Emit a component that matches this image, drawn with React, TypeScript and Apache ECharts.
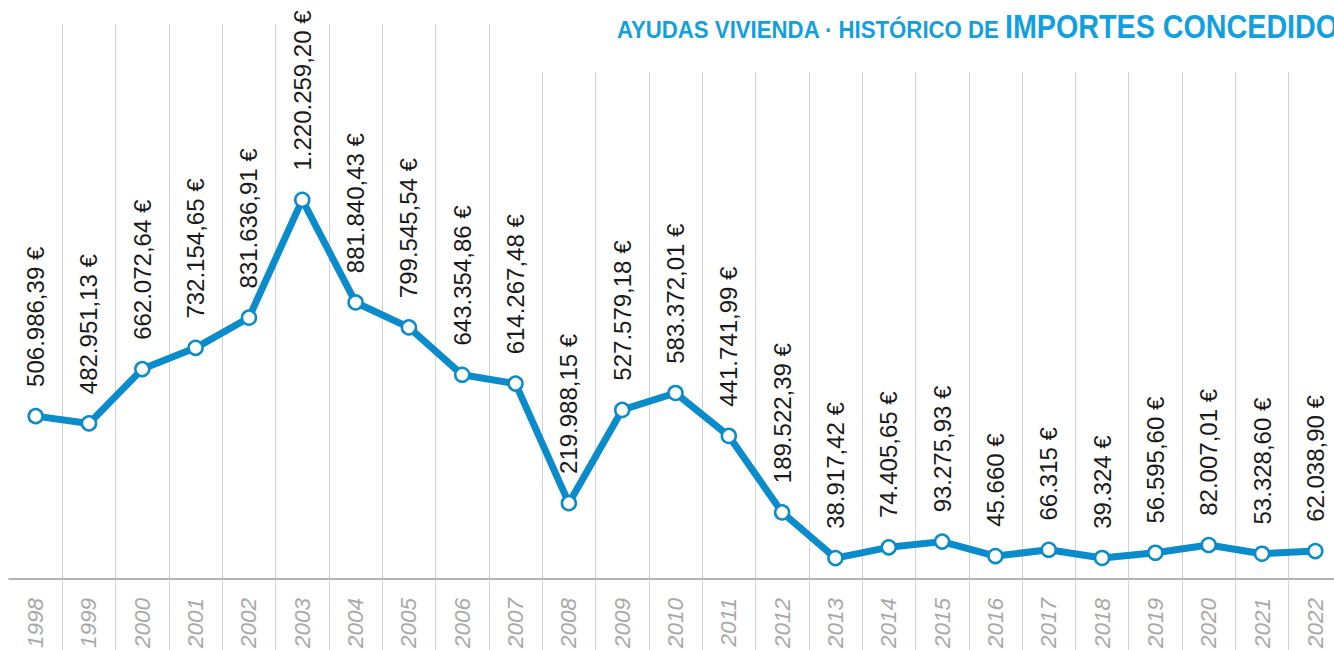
import React, { useEffect, useRef } from "react";
import * as echarts from "echarts";

const years: string[] = [
  "1998", "1999", "2000", "2001", "2002", "2003", "2004", "2005", "2006", "2007",
  "2008", "2009", "2010", "2011", "2012", "2013", "2014", "2015", "2016", "2017",
  "2018", "2019", "2020", "2021", "2022",
];

const amounts: number[] = [
  506986.39, 482951.13, 662072.64, 732154.65, 831636.91, 1220259.2, 881840.43, 799545.54,
  643354.86, 614267.48, 219988.15, 527579.18, 583372.01, 441741.99, 189522.39, 38917.42,
  74405.65, 93275.93, 45660, 66315, 39324, 56595.6, 82007.01, 53328.6, 62038.9,
];

const titleSmall = "AYUDAS VIVIENDA · HISTÓRICO DE";
const titleBig = "IMPORTES CONCEDIDOS";

const BLUE = "#0a8bcb";
const TITLE_BLUE = "#129fe0";
const GRID_GREY = "#d2d2d2";
const FONT = "'Liberation Sans', Arial, Helvetica, sans-serif";

function fmtEuro(v: number): string {
  const fixed = Number.isInteger(v) ? v.toFixed(0) : v.toFixed(2);
  const [i, d] = fixed.split(".");
  const ip = i.replace(/\B(?=(\d{3})+(?!\d))/g, ".");
  return ip + (d ? "," + d : "") + " €";
}

export default function App() {
  const ref = useRef<HTMLDivElement>(null);

  useEffect(() => {
    if (!ref.current) return;
    const chart = echarts.init(ref.current, undefined, { renderer: "svg" });
    const option: any = {
      animation: false,
      grid: [
        { left: 9, width: 1333, top: 24, bottom: 71, outerBoundsMode: "none", containLabel: false },
        { left: 9, width: 1333, top: 72, bottom: 71, outerBoundsMode: "none", containLabel: false },
      ],
      xAxis: [
        {
          type: "category",
          gridIndex: 0,
          data: years,
          boundaryGap: true,
          axisLine: { show: true, onZero: false, lineStyle: { color: "#9a9a9a", width: 1.5 } },
          axisTick: {
            show: true,
            length: 75,
            interval: (i: number) => i > 0,
            lineStyle: { color: GRID_GREY, width: 1 },
          },
          axisLabel: {
            interval: 0,
            rotate: 90,
            margin: 19,
            color: "#a8a8a8",
            fontSize: 22.5,
            fontStyle: "italic",
            fontFamily: FONT,
          },
          splitLine: {
            show: true,
            interval: (i: number) => i > 0 && i <= 9,
            lineStyle: { color: GRID_GREY, width: 1 },
          },
        },
        {
          type: "category",
          gridIndex: 1,
          data: years,
          boundaryGap: true,
          axisLine: { show: false, onZero: false },
          axisTick: { show: false },
          axisLabel: { show: false },
          splitLine: {
            show: true,
            interval: (i: number) => i >= 10,
            lineStyle: { color: GRID_GREY, width: 1 },
          },
        },
      ],
      yAxis: [
        { type: "value", gridIndex: 0, min: -30000, max: 1800000, show: false },
        { type: "value", gridIndex: 1, min: 0, max: 1, show: false },
      ],
      graphic: [
        {
          type: "text",
          x: 617,
          y: 42,
          scaleX: 0.925,
          style: {
            text: titleSmall,
            fill: TITLE_BLUE,
            font: `bold 24px ${FONT}`,
            verticalAlign: "bottom",
          },
        },
        {
          type: "text",
          x: 1005,
          y: 43,
          scaleX: 0.87,
          style: {
            text: titleBig,
            fill: TITLE_BLUE,
            font: `bold 33px ${FONT}`,
            verticalAlign: "bottom",
          },
        },
      ],
      series: [
        {
          type: "line",
          xAxisIndex: 0,
          yAxisIndex: 0,
          data: amounts,
          symbol: "circle",
          symbolSize: 14,
          showAllSymbol: true,
          lineStyle: { color: BLUE, width: 7 },
          itemStyle: { color: "#ffffff", borderColor: BLUE, borderWidth: 2.5 },
          emphasis: { disabled: true },
          label: {
            show: true,
            position: "top",
            distance: 21,
            rotate: 90,
            align: "left",
            verticalAlign: "middle",
            fontSize: 24,
            color: "#1a1a1a",
            fontFamily: FONT,
            formatter: (p: any) => fmtEuro(p.value),
          },
          z: 3,
        },
      ],
    };
    chart.setOption(option);
    return () => chart.dispose();
  }, []);

  return (
    <div
      ref={ref}
      style={{ position: "fixed", left: 0, top: 0, width: 1334, height: 650, background: "#fff" }}
    />
  );
}
